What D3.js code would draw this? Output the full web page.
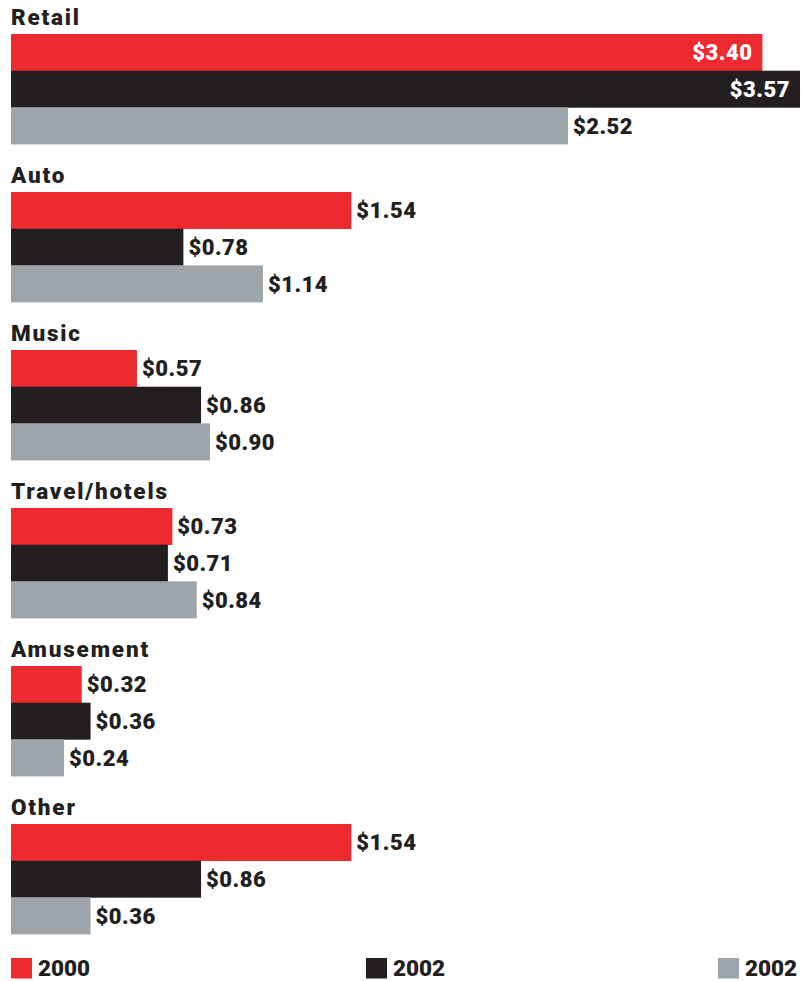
<!DOCTYPE html>
<html>
<head>
<meta charset="utf-8">
<script src="https://cdn.jsdelivr.net/npm/d3@7"></script>
<style>
  html, body { margin: 0; padding: 0; background: #fff; }
  svg { display: block; }
</style>
</head>
<body>
<svg id="chart" width="801" height="981"></svg>
<script>
// Spending by category, in dollars (three series)
const categories = ["Retail", "Auto", "Music", "Travel/hotels", "Amusement", "Other"];
const seriesNames = ["2000", "2002", "2002"];
const values2000 = [3.40, 1.54, 0.57, 0.73, 0.32, 1.54];
const values2002a = [3.57, 0.78, 0.86, 0.71, 0.36, 0.86];
const values2002b = [2.52, 1.14, 0.90, 0.84, 0.24, 0.36];
const seriesColors = ["#ec2a2f", "#231f20", "#9da4aa"];

const seriesValues = [values2000, values2002a, values2002b];

const svg = d3.select("#chart");
const left = 11;

const x = d3.scaleLinear().domain([0, 3.57]).range([left, 800]);

// one band per category, each holding a title and three stacked bars
const group = d3.scaleBand().domain(categories).range([34, 34 + 158 * 6]).paddingInner(0).paddingOuter(0);
const barH = 36.7;
const inner = d3.scaleBand().domain([0, 1, 2]).range([0, barH * 3]);

const font = "Roboto, 'Open Sans', sans-serif";

const g = svg.selectAll("g.cat").data(categories).join("g")
  .attr("class", "cat")
  .attr("transform", d => `translate(0,${group(d)})`);

g.append("text")
  .attr("x", left)
  .attr("y", -9)
  .attr("font-family", font)
  .attr("font-weight", 900)
  .attr("font-size", 22.5)
  .attr("letter-spacing", 1.8)
  .attr("fill", "#231f20")
  .text(d => d);

const rows = g.selectAll("g.bar").data((d, i) => seriesValues.map((s, k) => ({ k, v: s[i] })))
  .join("g").attr("class", "bar")
  .attr("transform", d => `translate(0,${inner(d.k)})`);

rows.append("rect")
  .attr("x", left)
  .attr("y", 0)
  .attr("width", d => x(d.v) - left)
  .attr("height", barH + 0.3)
  .attr("fill", d => seriesColors[d.k]);

// value labels: white inside the longest bars, dark just past the end otherwise
rows.append("text")
  .attr("x", d => d.v > 3 ? x(d.v) - 10 : x(d.v) + 5)
  .attr("y", barH / 2 + 7.8)
  .attr("text-anchor", d => d.v > 3 ? "end" : "start")
  .attr("font-family", font)
  .attr("font-weight", 900)
  .attr("font-size", 22)
  .attr("letter-spacing", 0.5)
  .attr("fill", d => d.v > 3 ? "#fff" : "#231f20")
  .text(d => "$" + d3.format(".2f")(d.v));

// legend
const legendX = [11, 366, 718];
const lg = svg.selectAll("g.legend").data(seriesNames).join("g")
  .attr("class", "legend")
  .attr("transform", (d, i) => `translate(${legendX[i]},958)`);

lg.append("rect")
  .attr("width", 21).attr("height", 20.5)
  .attr("fill", (d, i) => seriesColors[i]);

lg.append("text")
  .attr("x", 27)
  .attr("y", 17.8)
  .attr("font-family", font)
  .attr("font-weight", 900)
  .attr("font-size", 22.5)
  .attr("fill", "#231f20")
  .text(d => d);
</script>
</body>
</html>
